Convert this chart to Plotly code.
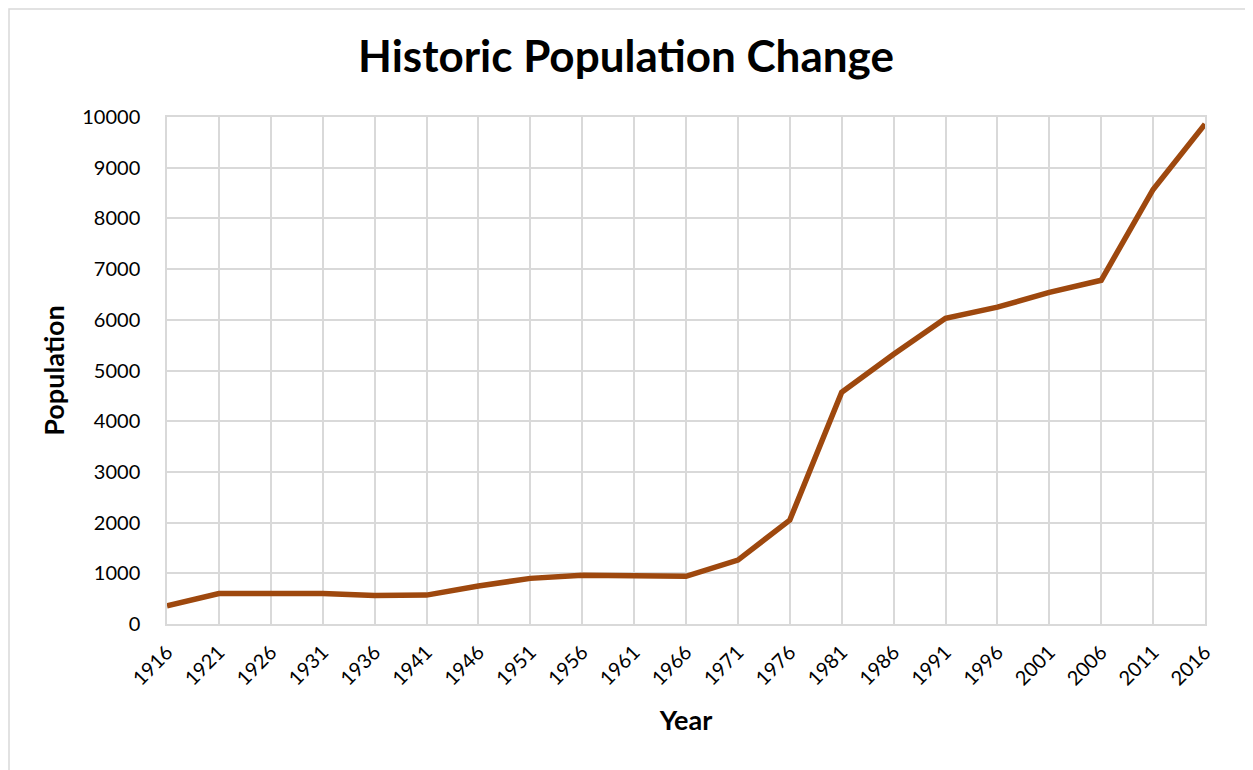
import plotly.graph_objects as go

years = ["1916", "1921", "1926", "1931", "1936", "1941", "1946", "1951", "1956", "1961",
         "1966", "1971", "1976", "1981", "1986", "1991", "1996", "2001", "2006", "2011", "2016"]
population = [360, 600, 600, 600, 560, 570, 750, 900, 960, 950,
              940, 1260, 2050, 4570, 5320, 6030, 6250, 6540, 6780, 8570, 9860]
y_ticks = [0, 1000, 2000, 3000, 4000, 5000, 6000, 7000, 8000, 9000, 10000]
y_tick_labels = ["0", "1000", "2000", "3000", "4000", "5000", "6000", "7000", "8000", "9000", "10000"]

FONT = "Lato"
OFF = 8  # page body margin
W, H = 1253 - OFF, 770 - OFF
L, R, T, B = 167 - OFF, 48, 117 - OFF, 146

fig = go.Figure()
fig.add_trace(go.Scatter(
    x=list(range(len(years))), y=population, mode="lines",
    line=dict(color="#9E480E", width=5.5), hoverinfo="skip", showlegend=False))

pw = W - L - R
ph = H - T - B
fig.add_shape(type="rect", xref="paper", yref="paper",
              x0=(1 - L) / pw, x1=(W + 20 - L) / pw,
              y0=1 - (H + 20 - T) / ph, y1=1 + (T - 1) / ph,
              line=dict(color="#D9D9D9", width=1.5), layer="below")

fig.update_layout(
    width=W, height=H,
    margin=dict(l=L, r=R, t=T, b=B),
    paper_bgcolor="white", plot_bgcolor="white",
    font=dict(family=FONT, color="black"),
    title=dict(text="<b>Historic Population Change</b>", x=(626 - OFF) / W, xanchor="center",
               y=1 - (57 - OFF) / H, yanchor="middle", font=dict(size=44, family=FONT, color="black")),
)
fig.update_xaxes(
    range=[0, len(years) - 1], tickmode="array", tickvals=list(range(len(years))),
    ticktext=years, tickangle=-45, tickfont=dict(size=20, family=FONT),
    showgrid=True, gridcolor="#D9D9D9", gridwidth=1.5,
    showline=True, linecolor="#D9D9D9", linewidth=1.5, mirror=True,
    ticks="outside", ticklen=7, tickcolor="rgba(0,0,0,0)",
    title=dict(text="<b>Year</b>", font=dict(size=27, family=FONT), standoff=23),
    zeroline=False, fixedrange=True,
)
fig.update_yaxes(
    range=[0, 10000], tickmode="array", tickvals=y_ticks, ticktext=y_tick_labels,
    tickfont=dict(size=20, family=FONT),
    showgrid=True, gridcolor="#D9D9D9", gridwidth=1.5,
    showline=True, linecolor="#D9D9D9", linewidth=1.5, mirror=True,
    ticks="outside", ticklen=21, tickcolor="rgba(0,0,0,0)",
    title=dict(text="<b>Population</b>", font=dict(size=27, family=FONT), standoff=10),
    zeroline=False, fixedrange=True,
)

fig.write_html("out.html", config={"displayModeBar": False})
